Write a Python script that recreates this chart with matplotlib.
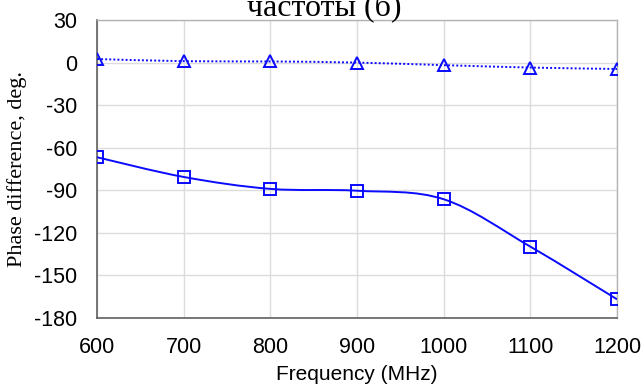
import numpy as np
import matplotlib
matplotlib.use('Agg')
from matplotlib import pyplot as plt
from matplotlib.path import Path
from matplotlib.patches import PathPatch

freq = [600, 700, 800, 900, 1000, 1100, 1200]
phase_tri = [2.5, 1.0, 0.8, 0.0, -1.8, -3.5, -4.5]
phase_sq = [-66.7, -80.6, -89.0, -90.3, -96.3, -129.7, -166.8]

x_ticks = [600, 700, 800, 900, 1000, 1100, 1200]
y_ticks = [30, 0, -30, -60, -90, -120, -150, -180]

blue = '#0a0aff'
plt.rcParams['axes.unicode_minus'] = False


def smooth_path(x, y):
    # Catmull-Rom segments written as cubic Bezier curves
    x = np.asarray(x, float)
    y = np.asarray(y, float)
    pts = np.column_stack([x, y])
    verts = [pts[0]]
    codes = [Path.MOVETO]
    n = len(pts)
    for i in range(n - 1):
        p0 = pts[i - 1] if i > 0 else pts[i]
        p1 = pts[i]
        p2 = pts[i + 1]
        p3 = pts[i + 2] if i + 2 < n else pts[i + 1]
        c1 = p1 + (p2 - p0) / 6.
        c2 = p2 - (p3 - p1) / 6.
        verts += [c1, c2, p2]
        codes += [Path.CURVE4] * 3
    return Path(verts, codes)


fig = plt.figure(figsize=(6.43, 3.85), dpi=100)
ax = fig.add_axes([0.1509, 0.174, 0.8087, 0.774])

ax.add_patch(PathPatch(smooth_path(freq, phase_sq), fc='none', ec=blue, lw=1.4,
                       zorder=3))
ax.add_patch(PathPatch(smooth_path(freq, phase_tri), fc='none', ec=blue, lw=1.4,
                       ls=(0, (1, 1.1)), zorder=3))
ax.plot(freq, phase_sq, 's', ms=8, mfc='none', mec=blue, mew=1.4, zorder=4)
ax.plot(freq, phase_tri, '^', ms=8, mfc='none', mec=blue, mew=1.4, zorder=4)

ax.set_xlim(600, 1200)
ax.set_ylim(-180, 30)
ax.set_xticks(x_ticks)
ax.set_yticks(y_ticks)
ax.tick_params(length=0, labelsize=15.5)
ax.tick_params(axis='y', pad=14)
ax.tick_params(axis='x', pad=14)
for lab in ax.get_xticklabels() + ax.get_yticklabels():
    lab.set_family('Liberation Sans')
ax.grid(color='#dcdcdc', lw=1)
ax.set_axisbelow(True)

for s in ['left', 'bottom']:
    ax.spines[s].set_color('#606060')
    ax.spines[s].set_linewidth(1.2)
for s in ['top', 'right']:
    ax.spines[s].set_color('#b4b4b4')
    ax.spines[s].set_linewidth(1.0)

fig.text(0.555, 0.012, 'Frequency (MHz)', ha='center', va='baseline',
         fontsize=15, family='Liberation Sans')
fig.text(0.026, 0.56, 'Phase difference, deg.', ha='center', va='center',
         rotation=90, fontsize=16, family='Liberation Serif')
fig.text(0.504, 0.9597, 'частоты (б)', ha='center', va='baseline',
         fontsize=23, family='Liberation Serif')

fig.savefig('out.png', dpi=100)
